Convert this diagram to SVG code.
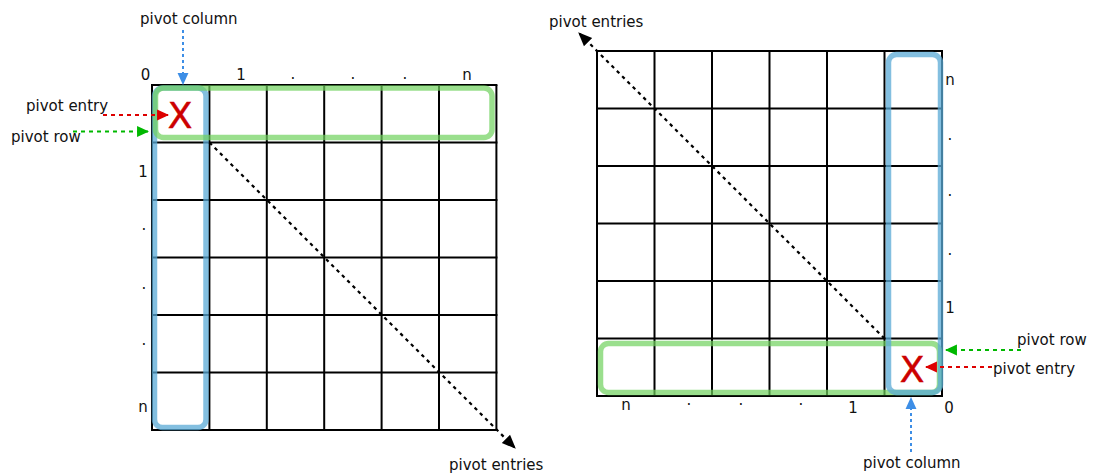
<svg xmlns="http://www.w3.org/2000/svg" width="1094" height="474" viewBox="0 0 1094 474">
<defs>
<style>
text{font-family:"DejaVu Sans","Liberation Sans",sans-serif;font-size:15px;fill:#111}
.lbl{text-anchor:middle}
.grid line{stroke:#000;stroke-width:2}
.rowhl{fill:none;stroke:#6fd25c;stroke-opacity:0.7;stroke-width:5.5}
.colhl{fill:none;stroke:#5aaad6;stroke-opacity:0.75;stroke-width:5.5}
.x{font-size:36px;fill:#cc0000;stroke:#cc0000;stroke-width:0.5;text-anchor:middle}
.diag{stroke:#000;stroke-width:2.2;stroke-dasharray:3.5,4;fill:none}
.blue{stroke:#3d8ee6;stroke-width:2;stroke-dasharray:3,3;fill:none}
.red{stroke:#dd0000;stroke-width:2;stroke-dasharray:4,4;fill:none}
.green{stroke:#00b800;stroke-width:2;stroke-dasharray:4,4;fill:none}
</style>
<marker id="ak" markerUnits="userSpaceOnUse" markerWidth="14" markerHeight="14" viewBox="0 0 12 10" refX="11" refY="5" orient="auto"><path d="M0,0 L12,5 L0,10 z" fill="#000"/></marker>
<marker id="ab" markerUnits="userSpaceOnUse" markerWidth="12" markerHeight="12" viewBox="0 0 11 10" refX="10" refY="5" orient="auto"><path d="M0,0 L11,5 L0,10 z" fill="#3d8ee6"/></marker>
<marker id="ar" markerUnits="userSpaceOnUse" markerWidth="12" markerHeight="12" viewBox="0 0 11 10" refX="10" refY="5" orient="auto"><path d="M0,0 L11,5 L0,10 z" fill="#dd0000"/></marker>
<marker id="ag" markerUnits="userSpaceOnUse" markerWidth="12" markerHeight="12" viewBox="0 0 11 10" refX="10" refY="5" orient="auto"><path d="M0,0 L11,5 L0,10 z" fill="#00b800"/></marker>
</defs>
<rect width="1094" height="474" fill="#fff"/>

<g id="left-matrix">
<g class="grid">
<line x1="152" y1="85" x2="152" y2="430"/><line x1="209.4" y1="85" x2="209.4" y2="430"/><line x1="266.8" y1="85" x2="266.8" y2="430"/><line x1="324.2" y1="85" x2="324.2" y2="430"/><line x1="381.6" y1="85" x2="381.6" y2="430"/><line x1="439" y1="85" x2="439" y2="430"/><line x1="496.4" y1="85" x2="496.4" y2="430"/>
<line x1="151" y1="85" x2="497.4" y2="85"/><line x1="151" y1="142.5" x2="497.4" y2="142.5"/><line x1="151" y1="200" x2="497.4" y2="200"/><line x1="151" y1="257.5" x2="497.4" y2="257.5"/><line x1="151" y1="315" x2="497.4" y2="315"/><line x1="151" y1="372.5" x2="497.4" y2="372.5"/><line x1="151" y1="430" x2="497.4" y2="430"/>
</g>
<rect class="colhl" x="154.5" y="88" width="51.5" height="339.5" rx="8"/>
<rect class="rowhl" x="155.5" y="88" width="336.5" height="49.5" rx="8"/>
<text class="x" x="180" y="128">X</text>
<text class="lbl" x="145.5" y="80">0</text><text class="lbl" x="241" y="80">1</text>
<text class="lbl" x="293" y="79">.</text><text class="lbl" x="353" y="79">.</text><text class="lbl" x="405" y="79">.</text>
<text class="lbl" x="467" y="80">n</text>
<text class="lbl" x="143" y="177">1</text>
<text class="lbl" x="144" y="230">.</text><text class="lbl" x="144" y="289">.</text><text class="lbl" x="144" y="345">.</text>
<text class="lbl" x="143" y="412">n</text>
</g>

<g id="right-matrix">
<g class="grid">
<line x1="597" y1="51" x2="597" y2="396"/><line x1="654.5" y1="51" x2="654.5" y2="396"/><line x1="712" y1="51" x2="712" y2="396"/><line x1="769.5" y1="51" x2="769.5" y2="396"/><line x1="827" y1="51" x2="827" y2="396"/><line x1="884.5" y1="51" x2="884.5" y2="396"/><line x1="942" y1="51" x2="942" y2="396"/>
<line x1="596" y1="51" x2="943" y2="51"/><line x1="596" y1="108.5" x2="943" y2="108.5"/><line x1="596" y1="166" x2="943" y2="166"/><line x1="596" y1="223.5" x2="943" y2="223.5"/><line x1="596" y1="281" x2="943" y2="281"/><line x1="596" y1="338.5" x2="943" y2="338.5"/><line x1="596" y1="396" x2="943" y2="396"/>
</g>
<rect class="rowhl" x="600.5" y="343.5" width="339" height="49" rx="8"/>
<rect class="colhl" x="888.5" y="54.5" width="52" height="338" rx="8"/>
<text class="x" x="912" y="381.5">X</text>
<text class="lbl" x="950" y="85">n</text>
<text class="lbl" x="950" y="140">.</text><text class="lbl" x="950" y="196">.</text><text class="lbl" x="950" y="255">.</text>
<text class="lbl" x="950" y="313">1</text>
<text class="lbl" x="626" y="410">n</text>
<text class="lbl" x="689" y="405">.</text><text class="lbl" x="741" y="405">.</text><text class="lbl" x="801" y="405">.</text>
<text class="lbl" x="853" y="413">1</text>
<text class="lbl" x="949" y="413">0</text>
</g>

<g id="labels">
<text x="140" y="24">pivot column</text>
<text x="26" y="111">pivot entry</text>
<text x="11" y="142">pivot row</text>
<text x="449" y="470">pivot entries</text>
<text x="549" y="27">pivot entries</text>
<text x="1017" y="345">pivot row</text>
<text x="993" y="374">pivot entry</text>
<text x="863" y="468">pivot column</text>
</g>

<g id="connectors">
<line class="blue" x1="183" y1="30" x2="183" y2="84" marker-end="url(#ab)"/>
<line class="red" x1="103" y1="115" x2="168" y2="115" marker-end="url(#ar)"/>
<line class="green" x1="73" y1="131.5" x2="148" y2="131.5" marker-end="url(#ag)"/>
<line class="diag" x1="209.4" y1="142.5" x2="515" y2="448" marker-end="url(#ak)"/>
<line class="diag" x1="884.5" y1="338.5" x2="579" y2="33" marker-end="url(#ak)"/>
<line class="green" x1="1021" y1="350" x2="946" y2="350" marker-end="url(#ag)"/>
<line class="red" x1="992" y1="367" x2="926" y2="367" marker-end="url(#ar)"/>
<line class="blue" x1="911" y1="452" x2="911" y2="398" marker-end="url(#ab)"/>
</g>
</svg>
